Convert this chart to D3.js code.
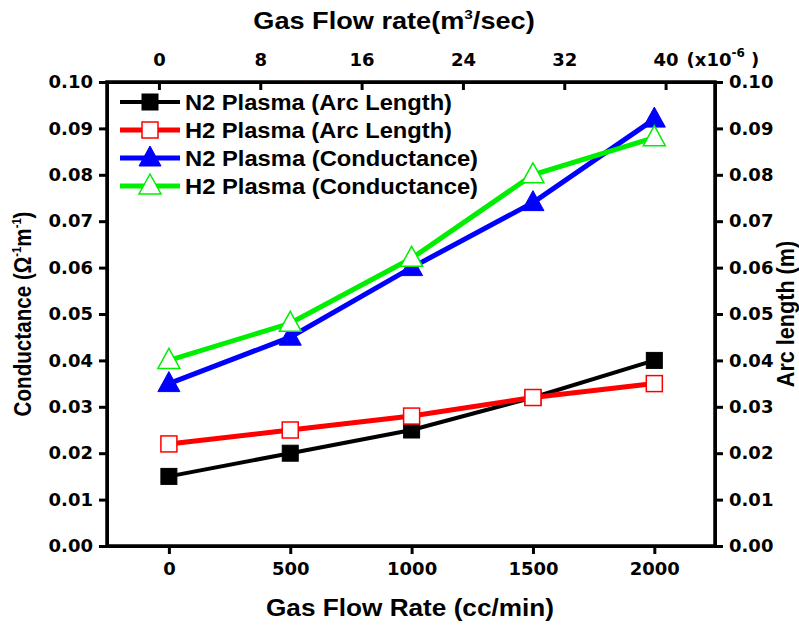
<!DOCTYPE html>
<html>
<head>
<meta charset="utf-8">
<script src="https://cdn.jsdelivr.net/npm/d3@7"></script>
<style>
body { margin: 0; background: #fff; }
svg { font-family: "Liberation Sans", Arial, sans-serif; font-weight: bold; }
.axis path, .axis line { stroke: #000; stroke-width: 3; }
.axis text { font-family: "DejaVu Sans", sans-serif; font-size: 18px; font-weight: bold; fill: #000; }
</style>
</head>
<body>
<svg width="799" height="627"></svg>
<script>
// data
var flowRate = [0, 500, 1000, 1500, 2000];            // cc/min
var n2Arc = [0.015, 0.020, 0.025, 0.032, 0.040];
var h2Arc = [0.022, 0.025, 0.028, 0.032, 0.035];
var n2Cond = [0.035, 0.045, 0.060, 0.074, 0.092];
var h2Cond = [0.040, 0.048, 0.062, 0.080, 0.088];

var bottomTicks = [0, 500, 1000, 1500, 2000];
var topTicks = [0, 8, 16, 24, 32, 40];
var yTicks = [0, 0.01, 0.02, 0.03, 0.04, 0.05, 0.06, 0.07, 0.08, 0.09, 0.10];

var series = [
  { name: "N2 Plasma (Arc Length)",  values: n2Arc,  color: "#000000", shape: "square",   filled: true,  width: 4, len: 267 },
  { name: "H2 Plasma (Arc Length)",  values: h2Arc,  color: "#ff0000", shape: "square",   filled: false, width: 5, len: 267 },
  { name: "N2 Plasma (Conductance)", values: n2Cond, color: "#0000ff", shape: "triangle", filled: true,  width: 5, len: 293 },
  { name: "H2 Plasma (Conductance)", values: h2Cond, color: "#00ee00", shape: "triangle", filled: false, width: 5, len: 293 }
];

var svg = d3.select("svg");
var pL = 107, pR = 715, pT = 82, pB = 546;

var x = d3.scaleLinear().domain([-255, 2250]).range([pL, pR]);
var xTop = d3.scaleLinear().domain([-4.1, 43.9]).range([pL, pR]);
var y = d3.scaleLinear().domain([0, 0.10]).range([pB, pT]);
var yRight = d3.scaleLinear().domain([0, 0.10]).range([pB, pT]);

// axes
svg.append("g").attr("class", "axis")
  .attr("transform", "translate(0," + pB + ")")
  .call(d3.axisBottom(x).tickValues(bottomTicks).tickSize(8).tickSizeOuter(0).tickPadding(8).tickFormat(d3.format("d")));

svg.append("g").attr("class", "axis")
  .attr("transform", "translate(0," + pT + ")")
  .call(d3.axisTop(xTop).tickValues(topTicks).tickSize(-8).tickSizeOuter(0).tickPadding(16).tickFormat(d3.format("d")));

svg.append("g").attr("class", "axis")
  .attr("transform", "translate(" + pL + ",0)")
  .call(d3.axisLeft(y).tickValues(yTicks).tickSize(8).tickSizeOuter(0).tickPadding(6).tickFormat(d3.format(".2f")));

svg.append("g").attr("class", "axis")
  .attr("transform", "translate(" + pR + ",0)")
  .call(d3.axisRight(yRight).tickValues(yTicks).tickSize(8).tickSizeOuter(0).tickPadding(6).tickFormat(d3.format(".2f")));

// frame
svg.append("rect")
  .attr("x", pL).attr("y", pT)
  .attr("width", pR - pL).attr("height", pB - pT)
  .attr("fill", "none").attr("stroke", "#000").attr("stroke-width", 3.5);

// (x10^-6) after the last top tick
var unit = svg.append("text")
  .attr("x", xTop(40) + 21).attr("y", pT - 16)
  .attr("font-family", "DejaVu Sans, sans-serif")
  .attr("font-size", 18).attr("fill", "#000");
unit.append("tspan").text("(x10");
unit.append("tspan").attr("font-size", 12).attr("dy", -9).text("-6");
unit.append("tspan").attr("dy", 9).text(" )");

// axis titles
svg.append("text")
  .attr("x", 410).attr("y", 616)
  .attr("text-anchor", "middle").attr("font-size", 23)
  .attr("textLength", 288).attr("lengthAdjust", "spacingAndGlyphs")
  .text("Gas Flow Rate (cc/min)");

var topTitle = svg.append("text")
  .attr("transform", "translate(394,29) scale(1.18,1)")
  .attr("text-anchor", "middle").attr("font-size", 23);
topTitle.append("tspan").text("Gas Flow rate(m");
topTitle.append("tspan").attr("font-size", 13).attr("dy", -10).text("3");
topTitle.append("tspan").attr("dy", 10).text("/sec)");

var yTitle = svg.append("text")
  .attr("transform", "translate(31," + ((pT + pB) / 2) + ") rotate(-90) scale(0.86,1)")
  .attr("text-anchor", "middle").attr("font-size", 24);
yTitle.append("tspan").text("Conductance  (\u03A9");
yTitle.append("tspan").attr("font-size", 13).attr("dy", -10).text("-1");
yTitle.append("tspan").attr("dy", 10).text("m");
yTitle.append("tspan").attr("font-size", 13).attr("dy", -10).text("-1");
yTitle.append("tspan").attr("dy", 10).text(")");

svg.append("text")
  .attr("transform", "translate(794," + ((pT + pB) / 2) + ") rotate(-90) scale(0.9,1)")
  .attr("text-anchor", "middle").attr("font-size", 24)
  .text("Arc length (m)");

// lines and markers
var line = d3.line()
  .x(function(d, i) { return x(flowRate[i]); })
  .y(function(d) { return y(d); });

function marker(g, s) {
  if (s.shape === "square") {
    g.append("rect")
      .attr("x", -8).attr("y", -8).attr("width", 16).attr("height", 16)
      .attr("fill", s.filled ? s.color : "#fff")
      .attr("stroke", s.color).attr("stroke-width", s.filled ? 1 : 1.5);
  } else {
    g.append("path")
      .attr("d", "M0,-12L11,8L-11,8Z")
      .attr("fill", s.filled ? s.color : "#fff")
      .attr("stroke", s.color).attr("stroke-width", s.filled ? 1 : 1.5);
  }
}

series.forEach(function(s) {
  svg.append("path")
    .datum(s.values)
    .attr("fill", "none")
    .attr("stroke", s.color)
    .attr("stroke-width", s.width)
    .attr("d", line);

  svg.append("g").selectAll("g")
    .data(s.values)
    .enter().append("g")
    .attr("transform", function(d, i) { return "translate(" + x(flowRate[i]) + "," + y(d) + ")"; })
    .each(function() { marker(d3.select(this), s); });
});

// legend
var legend = svg.append("g").attr("transform", "translate(120,102)");
series.forEach(function(s, i) {
  var row = legend.append("g").attr("transform", "translate(0," + (i * 28) + ")");
  row.append("line")
    .attr("x1", 0).attr("x2", 60).attr("y1", 0).attr("y2", 0)
    .attr("stroke", s.color).attr("stroke-width", s.width);
  var m = row.append("g").attr("transform", "translate(30,0)");
  marker(m, s);
  row.append("text")
    .attr("x", 65).attr("y", 8)
    .attr("font-size", 22)
    .attr("textLength", s.len).attr("lengthAdjust", "spacingAndGlyphs")
    .text(s.name);
});
</script>
</body>
</html>
